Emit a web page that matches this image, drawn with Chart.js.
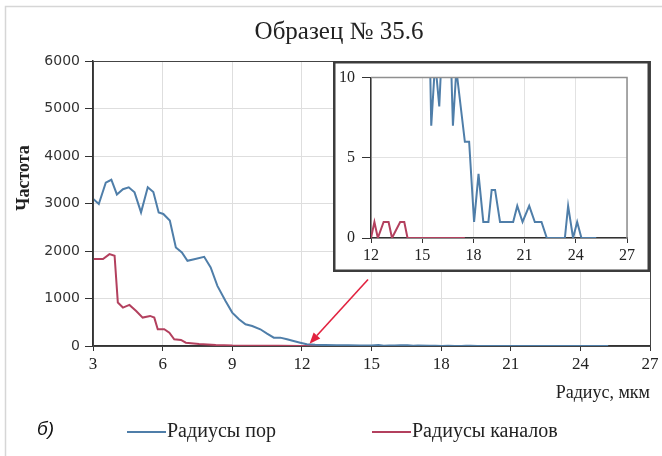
<!DOCTYPE html>
<html>
<head>
<meta charset="utf-8">
<script src="https://cdn.jsdelivr.net/npm/chart.js@4/dist/chart.umd.min.js"></script>
<style>
html,body{margin:0;padding:0;background:#fff;}
#wrap{position:relative;width:662px;height:456px;overflow:hidden;}
#main{position:absolute;left:0;top:0;}
#inset{position:absolute;left:333px;top:61px;}
</style>
</head>
<body>
<div id="wrap">
<canvas id="main" width="662" height="456"></canvas>
<canvas id="inset" width="317" height="211"></canvas>
</div>
<script>
// ---- texts ----
const chartTitle = 'Образец № 35.6';
const xAxisTitle = 'Радиус, мкм';
const yAxisTitle = 'Частота';
const panelLabel = 'б)';
const seriesNames = ['Радиусы пор', 'Радиусы каналов'];

// ---- data: pore radii (blue) ----
const poreRadius = [3.0, 3.25, 3.55, 3.79, 4.03, 4.29, 4.54, 4.79, 5.07, 5.36, 5.6, 5.83, 6.03, 6.31, 6.57, 6.83, 7.07, 7.36, 7.79, 8.07, 8.36, 8.71, 9.0, 9.29, 9.57, 9.86, 10.21, 10.5, 10.79, 11.07, 11.36, 11.64, 11.93, 12.21, 12.57, 13.0, 13.5, 14.0, 14.5, 15.0, 15.3, 15.53, 15.76, 16.0, 16.25, 16.55, 16.8, 17.0, 17.5, 17.75, 18.04, 18.3, 18.58, 18.88, 19.07, 19.27, 19.56, 20.33, 20.57, 20.88, 21.27, 21.6, 21.99, 22.3, 23.36, 23.55, 23.84, 24.08, 24.33, 25.2];
const poreFreq = [3100, 2990, 3440, 3500, 3190, 3300, 3340, 3235, 2813, 3340, 3240, 2813, 2780, 2640, 2075, 1970, 1793, 1828, 1877, 1653, 1266, 949, 703, 563, 457, 422, 352, 260, 176, 176, 141, 105, 70, 35, 24, 20, 17, 15, 13, 12, 20, 7, 11, 8.2, 14, 16, 7, 10.5, 6, 6, 1, 4, 1, 1, 3, 3, 1, 1, 2, 1, 2, 1, 1, 0, 0, 2, 0, 1, 0, 0];

// ---- data: channel radii (red) ----
const channelRadius = [3.0, 3.43, 3.71, 3.93, 4.07, 4.29, 4.57, 4.86, 5.14, 5.46, 5.64, 5.79, 6.07, 6.29, 6.5, 6.79, 7.0, 7.57, 8.29, 9.0, 10.0, 11.0, 12.0, 12.2, 12.4, 12.74, 13.03, 13.23, 13.71, 13.95, 14.14, 17.5];
const channelFreq = [1830, 1830, 1934, 1899, 914, 809, 865, 738, 598, 633, 598, 352, 352, 281, 141, 127, 70, 40, 21, 10, 6, 4, 0, 1, 0, 1, 1, 0, 1, 1, 0, 0];

// ---- ticks ----
const mainXTicks = [3, 6, 9, 12, 15, 18, 21, 24, 27];
const mainYTicks = [0, 1000, 2000, 3000, 4000, 5000, 6000];
const insetXTicks = [12, 15, 18, 21, 24, 27];
const insetYTicks = [0, 5, 10];

// ---- arrow annotation (data coordinates) ----
const arrowStart = {x: 14.85, y: 1400};
const arrowEnd = {x: 12.33, y: 50};

const BLUE = '#4f7ea9';
const RED = '#b3405e';
const SERIF = '"Liberation Serif", "Times New Roman", serif';

function pts(xs, ys) { return xs.map((x, i) => ({x: x, y: ys[i]})); }
function makeDatasets() {
  return [
    {label: seriesNames[0], data: pts(poreRadius, poreFreq), borderColor: BLUE, backgroundColor: BLUE, borderWidth: 2, pointRadius: 0, tension: 0, fill: false},
    {label: seriesNames[1], data: pts(channelRadius, channelFreq), borderColor: RED, backgroundColor: RED, borderWidth: 2, pointRadius: 0, tension: 0, fill: false}
  ];
}
function tickSetter(arr) { return function(s) { s.ticks = arr.map(v => ({value: v})); }; }
const plainLabel = v => String(v);

const mainDecor = {
  id: 'mainDecor',
  beforeDraw(chart) {
    const ctx = chart.ctx;
    ctx.save();
    ctx.fillStyle = '#fff';
    ctx.fillRect(0, 0, chart.width, chart.height);
    ctx.strokeStyle = '#d6d6d6';
    ctx.lineWidth = 1.5;
    ctx.beginPath();
    ctx.moveTo(5.5, chart.height); ctx.lineTo(5.5, 6.5); ctx.lineTo(chart.width, 6.5);
    ctx.stroke();
    ctx.restore();
  },
  afterDraw(chart) {
    const ctx = chart.ctx;
    const a = chart.chartArea;
    ctx.save();
    ctx.strokeStyle = '#444';
    ctx.lineWidth = 1;
    ctx.strokeRect(a.left + 0.5, a.top + 0.5, a.right - a.left, a.bottom - a.top);
    ctx.fillStyle = '#222';
    ctx.font = 'bold 18px ' + SERIF;
    ctx.textAlign = 'center';
    ctx.textBaseline = 'middle';
    ctx.translate(24, 178);
    ctx.rotate(-Math.PI / 2);
    ctx.fillText(yAxisTitle, 0, 0);
    ctx.restore();

    ctx.save();
    ctx.fillStyle = '#111';
    ctx.font = 'italic 19px "Liberation Sans", sans-serif';
    ctx.textAlign = 'left';
    ctx.textBaseline = 'middle';
    ctx.fillText(panelLabel, 37, 430);
    ctx.restore();

    const legendItems = [{x0: 127, x1: 166}, {x0: 372, x1: 411}];
    ctx.save();
    ctx.font = '20px ' + SERIF;
    ctx.textAlign = 'left';
    ctx.textBaseline = 'middle';
    chart.data.datasets.forEach((ds, i) => {
      const it = legendItems[i];
      ctx.strokeStyle = ds.borderColor;
      ctx.lineWidth = 2;
      ctx.beginPath();
      ctx.moveTo(it.x0, 432); ctx.lineTo(it.x1, 432);
      ctx.stroke();
      ctx.fillStyle = '#222';
      ctx.fillText(ds.label, it.x1 + 1, 432);
    });
    ctx.restore();

    const xs = chart.scales.x, ys = chart.scales.y;
    const x1 = xs.getPixelForValue(arrowStart.x), y1 = ys.getPixelForValue(arrowStart.y);
    const x2 = xs.getPixelForValue(arrowEnd.x), y2 = ys.getPixelForValue(arrowEnd.y);
    const ang = Math.atan2(y2 - y1, x2 - x1);
    const head = 11, hw = 4.5;
    const bx = x2 - head * Math.cos(ang), by = y2 - head * Math.sin(ang);
    ctx.save();
    ctx.strokeStyle = '#e2223f';
    ctx.fillStyle = '#e2223f';
    ctx.lineWidth = 1.6;
    ctx.beginPath();
    ctx.moveTo(x1, y1); ctx.lineTo(bx, by);
    ctx.stroke();
    ctx.beginPath();
    ctx.moveTo(x2, y2);
    ctx.lineTo(bx + hw * Math.sin(ang), by - hw * Math.cos(ang));
    ctx.lineTo(bx - hw * Math.sin(ang), by + hw * Math.cos(ang));
    ctx.closePath();
    ctx.fill();
    ctx.restore();
  }
};

const insetDecor = {
  id: 'insetDecor',
  beforeDraw(chart) {
    const ctx = chart.ctx;
    ctx.save();
    ctx.fillStyle = '#fff';
    ctx.fillRect(0, 0, chart.width, chart.height);
    ctx.restore();
  },
  afterDraw(chart) {
    const ctx = chart.ctx;
    const a = chart.chartArea;
    ctx.save();
    ctx.strokeStyle = '#8f8f8f';
    ctx.lineWidth = 1.5;
    ctx.beginPath();
    ctx.moveTo(a.left, a.top); ctx.lineTo(a.right, a.top); ctx.lineTo(a.right, a.bottom);
    ctx.stroke();
    ctx.strokeStyle = '#3c3c3c';
    ctx.lineWidth = 2.5;
    ctx.strokeRect(1.25, 1.25, chart.width - 2.5, chart.height - 2.5);
    ctx.restore();
  }
};

Chart.defaults.font.family = SERIF;
Chart.defaults.color = '#222';

new Chart(document.getElementById('main'), {
  type: 'line',
  data: {datasets: makeDatasets()},
  options: {
    responsive: false,
    animation: false,
    events: [],
    layout: {padding: {left: 28, right: 12, top: 0, bottom: 50}},
    plugins: {
      legend: {display: false},
      tooltip: {enabled: false},
      title: {display: true, text: chartTitle, color: '#222', font: {family: SERIF, size: 25, weight: 'normal'}, padding: {top: 17, bottom: 14}}
    },
    scales: {
      x: {
        type: 'linear', min: 3, max: 27,
        afterBuildTicks: tickSetter(mainXTicks),
        afterFit: s => { s.height = 60; },
        grid: {color: '#dedede', tickColor: '#333', tickLength: 5, lineWidth: 1},
        border: {color: '#333', width: 1.5},
        ticks: {font: {family: SERIF, size: 17}, color: '#222', padding: 3, maxRotation: 0, autoSkip: false, callback: plainLabel},
        title: {display: true, text: xAxisTitle, align: 'end', color: '#222', font: {family: SERIF, size: 18}, padding: {top: 0, bottom: 2}}
      },
      y: {
        type: 'linear', min: 0, max: 6000,
        afterBuildTicks: tickSetter(mainYTicks),
        afterFit: s => { s.width = 65; },
        grid: {color: '#dedede', tickColor: '#333', tickLength: 8, lineWidth: 1},
        border: {color: '#333', width: 1.5},
        ticks: {font: {family: '"DejaVu Sans", sans-serif', size: 14}, color: '#333', padding: 5, callback: plainLabel}
      }
    }
  },
  plugins: [mainDecor]
});

new Chart(document.getElementById('inset'), {
  type: 'line',
  data: {datasets: makeDatasets()},
  options: {
    responsive: false,
    animation: false,
    events: [],
    layout: {padding: {left: 0, top: 11, right: 23, bottom: 0}},
    plugins: {legend: {display: false}, tooltip: {enabled: false}, title: {display: false}},
    scales: {
      x: {
        type: 'linear', min: 12, max: 27,
        afterBuildTicks: tickSetter(insetXTicks),
        afterFit: s => { s.height = 34; },
        grid: {color: '#e2e2e2', tickColor: '#333', tickLength: 5, lineWidth: 1},
        border: {color: '#333', width: 1.5},
        ticks: {font: {family: SERIF, size: 16}, color: '#222', padding: 3, maxRotation: 0, autoSkip: false, callback: plainLabel}
      },
      y: {
        type: 'linear', min: 0, max: 10,
        afterBuildTicks: tickSetter(insetYTicks),
        afterFit: s => { s.width = 38; },
        grid: {color: '#e2e2e2', tickColor: '#333', tickLength: 9, lineWidth: 1},
        border: {color: '#333', width: 1.5},
        ticks: {font: {family: SERIF, size: 16}, color: '#222', padding: 7, callback: plainLabel}
      }
    }
  },
  plugins: [insetDecor]
});
</script>
</body>
</html>
